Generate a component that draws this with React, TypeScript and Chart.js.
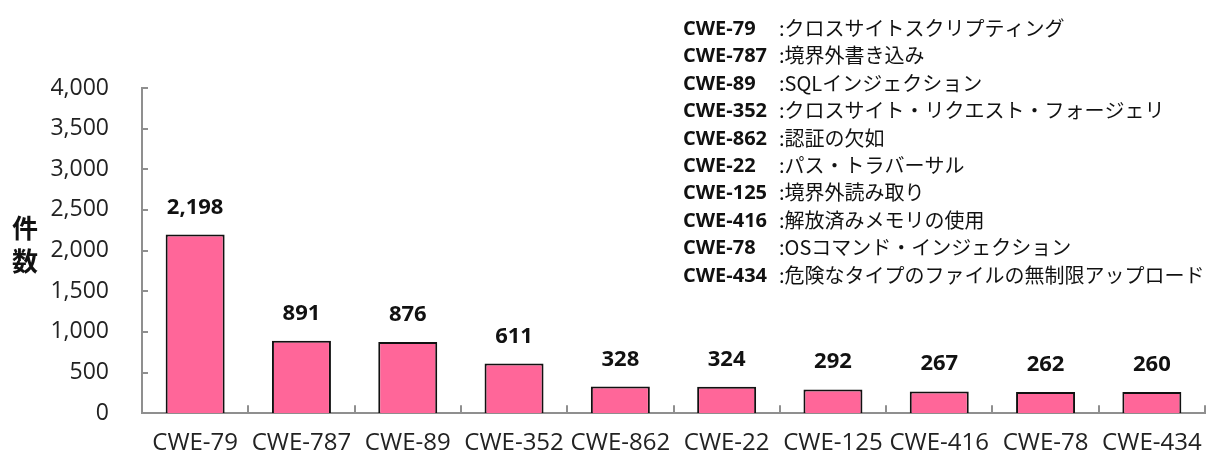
import React, { useEffect, useRef } from "react";
import { Chart, registerables } from "chart.js";

Chart.register(...registerables);

const categories = ["CWE-79", "CWE-787", "CWE-89", "CWE-352", "CWE-862", "CWE-22", "CWE-125", "CWE-416", "CWE-78", "CWE-434"];
const counts = [2198, 891, 876, 611, 328, 324, 292, 267, 262, 260];
const legendCodes = ["CWE-79", "CWE-787", "CWE-89", "CWE-352", "CWE-862", "CWE-22", "CWE-125", "CWE-416", "CWE-78", "CWE-434"];
const legendNames = [
  ":クロスサイトスクリプティング",
  ":境界外書き込み",
  ":SQLインジェクション",
  ":クロスサイト・リクエスト・フォージェリ",
  ":認証の欠如",
  ":パス・トラバーサル",
  ":境界外読み取り",
  ":解放済みメモリの使用",
  ":OSコマンド・インジェクション",
  ":危険なタイプのファイルの無制限アップロード",
];
const yTitleChars = ["件", "数"];
const yTicks = [0, 500, 1000, 1500, 2000, 2500, 3000, 3500, 4000];

const LATIN = "'Open Sans', 'Noto Sans CJK JP', sans-serif";
const CJK = "'Noto Sans CJK JP', sans-serif";

const fmt = (v: number) => v.toLocaleString("en-US");

const overlayPlugin = {
  id: "overlay",
  afterDraw(chart: any) {
    const ctx = chart.ctx as CanvasRenderingContext2D;
    const area = chart.chartArea;
    const ys = chart.scales.y;
    ctx.save();
    // tick marks (inside)
    ctx.strokeStyle = "#8f8f8f";
    ctx.lineWidth = 2;
    ctx.beginPath();
    yTicks.forEach((v) => {
      const y = Math.round(ys.getPixelForValue(v));
      ctx.moveTo(area.left, y);
      ctx.lineTo(area.left + 6, y);
    });
    const n = categories.length;
    for (let i = 1; i <= n; i++) {
      const x = Math.round(area.left + (i * (area.right - area.left)) / n);
      ctx.moveTo(x, area.bottom);
      ctx.lineTo(x, area.bottom - 8);
    }
    ctx.stroke();

    // data labels
    const meta = chart.getDatasetMeta(0);
    ctx.fillStyle = "#111";
    ctx.font = `bold 22px ${LATIN}`;
    ctx.textAlign = "center";
    ctx.textBaseline = "alphabetic";
    meta.data.forEach((bar: any, i: number) => {
      ctx.fillText(fmt(counts[i]), bar.x, bar.y - 21);
    });

    // y title (vertical stacked)
    ctx.font = `bold 26px ${CJK}`;
    ctx.textAlign = "center";
    ctx.textBaseline = "middle";
    yTitleChars.forEach((c, i) => {
      ctx.fillText(c, 25, 228 + i * 33);
    });

    // legend block
    ctx.textAlign = "left";
    ctx.textBaseline = "alphabetic";
    legendCodes.forEach((code, i) => {
      const y = 35 + i * 27.4;
      ctx.font = `bold 20px ${LATIN}`;
      ctx.fillText(code, 683, y);
      ctx.font = `20px ${CJK}`;
      ctx.fillText(legendNames[i], 779, y + 1);
    });
    ctx.restore();
  },
};

export default function App() {
  const ref = useRef<HTMLCanvasElement | null>(null);
  useEffect(() => {
    if (!ref.current) return;
    const chart = new Chart(ref.current, {
      type: "bar",
      data: {
        labels: categories,
        datasets: [
          {
            data: counts,
            backgroundColor: "#FF6699",
            borderColor: "#111111",
            borderWidth: 2,
            borderSkipped: "bottom",
            barPercentage: 0.555,
            categoryPercentage: 1,
          },
        ],
      },
      options: {
        responsive: false,
        animation: false,
        layout: { padding: { left: 0, right: 16, top: 88, bottom: 0 } },
        plugins: { legend: { display: false }, tooltip: { enabled: false }, title: { display: false } },
        scales: {
          x: {
            grid: { display: false },
            border: { display: true, color: "#8f8f8f", width: 2 },
            ticks: { color: "#222", font: { family: LATIN, size: 24, lineHeight: 1 }, padding: 10, maxRotation: 0, autoSkip: false },
            afterFit: (s: any) => {
              s.height = 36;
              s._computeLabelArea = () => undefined;
            },
          },
          y: {
            min: 0,
            max: 4000,
            grid: { display: false },
            border: { display: true, color: "#8f8f8f", width: 2 },
            ticks: {
              stepSize: 500,
              color: "#222",
              font: { family: LATIN, size: 23 },
              padding: 25,
              callback: (v: any) => fmt(Number(v)),
            },
            afterFit: (s: any) => {
              s.width = 142;
            },
          },
        },
      },
      plugins: [overlayPlugin],
    });
    return () => chart.destroy();
  }, []);
  return (
    <div style={{ position: "absolute", left: 0, top: 0, width: 1221, height: 452, background: "#fff" }}>
      <canvas ref={ref} width={1221} height={452} style={{ display: "block", width: 1221, height: 452 }} />
    </div>
  );
}
